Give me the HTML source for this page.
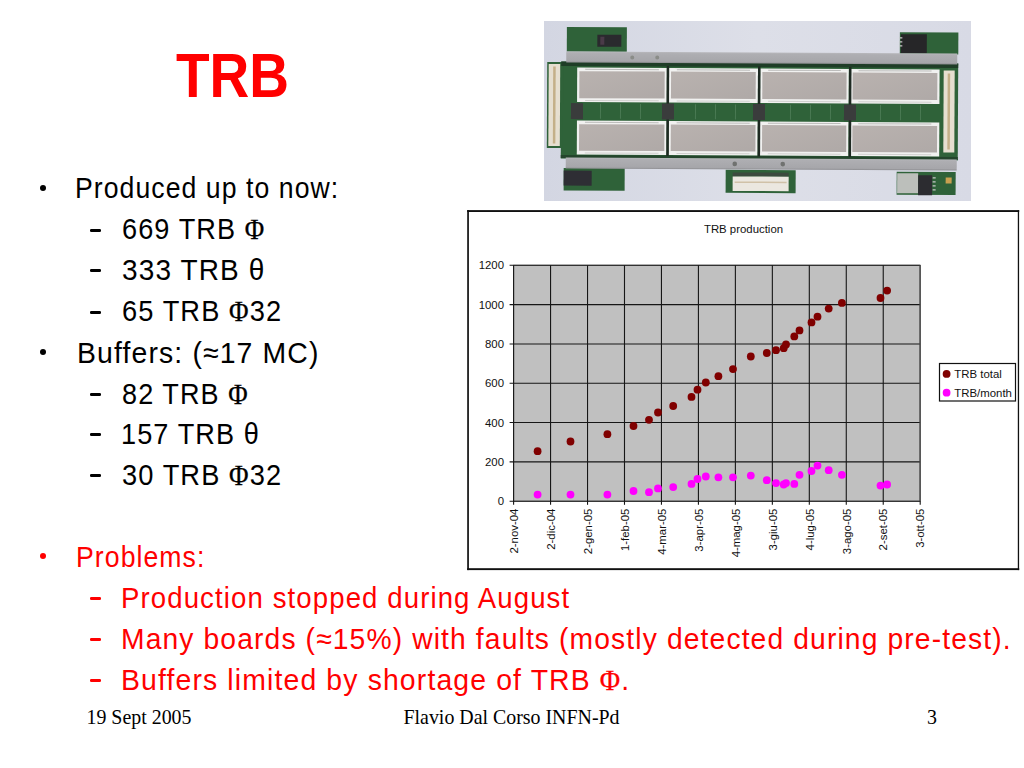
<!DOCTYPE html>
<html><head><meta charset="utf-8"><title>TRB</title>
<style>
html,body{margin:0;padding:0;background:#fff;}
#s{position:relative;width:1024px;height:768px;overflow:hidden;background:#fff;}
.t,.ttl,.ft{position:absolute;white-space:nowrap;font-family:"Liberation Sans",sans-serif;line-height:1;transform-origin:0 0;}
.t{font-size:30px;color:#000;-webkit-text-stroke:0px #000;letter-spacing:1.2px;}
.bu{position:absolute;left:40px;width:6.4px;height:6.4px;border-radius:50%;background:#000;}
.da{position:absolute;left:89.8px;width:11.4px;height:2.5px;border-radius:1.2px;background:#000;}
.bu.r,.da.r{background:#f00;}
.ph{font-family:"Liberation Serif",serif;font-size:0.98em;-webkit-text-stroke:0.3px currentColor;}
.t.r{color:#f00;-webkit-text-stroke:0px #f00;}
.ttl{left:176.00px;top:44.00px;font-size:63px;font-weight:bold;color:#f00;transform:scaleX(0.8730);}
.ft{font-family:"Liberation Serif",serif;font-size:19.9px;color:#000;}
</style></head><body><div id="s">
<div class="ttl">TRB</div>
<div class="bu" style="top:185px"></div>
<div class="t" id="L0" style="left:75.46px;top:173.30px;transform:scaleX(0.8868)">Produced up to now:</div>
<div class="da" style="top:229px"></div>
<div class="t" id="L1" style="left:121.89px;top:214.40px;transform:scaleX(0.9040)">669 TRB <span class="ph">&Phi;</span></div>
<div class="da" style="top:269px"></div>
<div class="t" id="L2" style="left:122.12px;top:255.00px;transform:scaleX(0.9333)">333 TRB &theta;</div>
<div class="da" style="top:311px"></div>
<div class="t" id="L3" style="left:122.09px;top:296.40px;transform:scaleX(0.9079)">65 TRB <span class="ph">&Phi;</span>32</div>
<div class="bu" style="top:349px"></div>
<div class="t" id="L4" style="left:77.11px;top:337.60px;transform:scaleX(0.9460)">Buffers: (&asymp;17 MC)</div>
<div class="da" style="top:393px"></div>
<div class="t" id="L5" style="left:122.15px;top:378.50px;transform:scaleX(0.9018)">82 TRB <span class="ph">&Phi;</span></div>
<div class="da" style="top:433px"></div>
<div class="t" id="L6" style="left:121.25px;top:419.20px;transform:scaleX(0.9040)">157 TRB &theta;</div>
<div class="da" style="top:474px"></div>
<div class="t" id="L7" style="left:122.15px;top:459.80px;transform:scaleX(0.9079)">30 TRB <span class="ph">&Phi;</span>32</div>
<div class="bu r" style="top:553px"></div>
<div class="t r" id="L8" style="left:75.90px;top:542.10px;transform:scaleX(0.8875)">Problems:</div>
<div class="da r" style="top:597px"></div>
<div class="t r" id="L9" style="left:121.19px;top:583.00px;transform:scaleX(0.9193)">Production stopped during August</div>
<div class="da r" style="top:638px"></div>
<div class="t r" id="L10" style="left:121.02px;top:624.20px;transform:scaleX(0.9411)">Many boards (&asymp;15%) with faults (mostly detected during pre-test).</div>
<div class="da r" style="top:679px"></div>
<div class="t r" id="L11" style="left:121.11px;top:664.80px;transform:scaleX(0.9461)">Buffers limited by shortage of TRB <span class="ph">&Phi;</span>.</div>
<div class="ft" style="left:86.5px;top:707.7px">19 Sept 2005</div>
<div class="ft" style="left:403.5px;top:707.7px">Flavio Dal Corso INFN-Pd</div>
<div class="ft" style="left:927px;top:707.7px">3</div>
<svg width="1024" height="768" viewBox="0 0 1024 768" style="position:absolute;left:0;top:0">
<defs><linearGradient id="bg" x1="0" y1="0" x2="1" y2="0"><stop offset="0" stop-color="#d3d6e2"/><stop offset="0.5" stop-color="#dddfe8"/><stop offset="1" stop-color="#d8dae5"/></linearGradient><linearGradient id="bar" x1="0" y1="0" x2="0" y2="1"><stop offset="0" stop-color="#b8b8bc"/><stop offset="0.15" stop-color="#aeaeb2"/><stop offset="0.85" stop-color="#a6a6aa"/><stop offset="1" stop-color="#8c8c90"/></linearGradient><linearGradient id="pad" x1="0" y1="0" x2="1" y2="1"><stop offset="0" stop-color="#b9b2af"/><stop offset="1" stop-color="#afa9a7"/></linearGradient></defs>
<rect x="544" y="21" width="427" height="180" fill="url(#bg)"/>
<g transform="translate(0 0.5) rotate(0.28 757 110)">
<rect x="566.5" y="27.5" width="60" height="24.5" fill="#2f6239"/>
<rect x="597" y="35" width="24" height="12" fill="#2a2a2e"/>
<rect x="600" y="37" width="4" height="8" fill="#4a3a48"/>
<rect x="899.5" y="31" width="58.5" height="22" fill="#2f6239"/>
<rect x="900.5" y="33" width="26" height="19" fill="#262628"/>
<rect x="899" y="36" width="3" height="1.2" fill="#c8c8c8"/><rect x="899" y="40" width="3" height="1.2" fill="#c8c8c8"/><rect x="899" y="44" width="3" height="1.2" fill="#c8c8c8"/>
<rect x="564" y="168.5" width="61" height="22.5" fill="#2f6239"/>
<rect x="564" y="171" width="28" height="15" fill="#2e2e34"/>
<rect x="726" y="169.5" width="70" height="23" fill="#2f6239"/>
<rect x="733" y="172" width="56" height="4" fill="#3c4a3e"/>
<rect x="733" y="176" width="56" height="14.5" fill="#ebe7e0"/>
<rect x="735" y="181" width="52" height="1.5" fill="#c9b89a" opacity="0.8"/>
<rect x="897" y="170.5" width="59" height="23" fill="#2f6239"/>
<rect x="897.5" y="172" width="21" height="20" fill="#bcbfbb"/>
<rect x="918.5" y="174" width="14" height="20" fill="#2c2c30"/>
<rect x="933" y="176" width="3" height="1.2" fill="#c8c8c8"/><rect x="933" y="180" width="3" height="1.2" fill="#c8c8c8"/><rect x="933" y="184" width="3" height="1.2" fill="#c8c8c8"/><rect x="933" y="188" width="3" height="1.2" fill="#c8c8c8"/>
<rect x="946" y="176" width="6" height="6" fill="#c8a050"/>
<rect x="561" y="62" width="397" height="97" fill="#2f6239"/>
<rect x="547" y="62.5" width="16" height="86" fill="#2f6239"/>
<rect x="548.5" y="64.5" width="11.5" height="82" fill="#e6dfd0"/>
<rect x="553" y="67" width="2.5" height="77" fill="#c4b088"/>
<rect x="943.5" y="69" width="11" height="82" fill="#e6dfd0"/>
<rect x="947.5" y="72" width="2.5" height="76" fill="#c4b088"/>
<rect x="561" y="62" width="397" height="4.5" fill="#1f3d27"/>
<rect x="561" y="155.5" width="397" height="3" fill="#24452c"/>
<rect x="566" y="52" width="391" height="11" fill="url(#bar)"/>
<rect x="566" y="158" width="391" height="11" fill="url(#bar)"/>
<circle cx="735" cy="163.5" r="2.3" fill="#707270"/>
<circle cx="783" cy="163.5" r="2.3" fill="#707270"/>
<circle cx="632" cy="57.5" r="2" fill="#8a8c88"/>
<circle cx="657" cy="57.5" r="2" fill="#8a8c88"/>
<rect x="577" y="68" width="89.7" height="34.5" fill="#f1f1f0"/>
<rect x="579.2" y="71.5" width="85.3" height="27.0" fill="url(#pad)"/>
<rect x="585.0" y="69.2" width="73.7" height="1" fill="#9a9a98" opacity="0.6"/>
<rect x="585.0" y="100.3" width="73.7" height="1" fill="#c8c8c6" opacity="0.8"/>
<rect x="577" y="121" width="89.7" height="34" fill="#f1f1f0"/>
<rect x="579.2" y="124.5" width="85.3" height="26.5" fill="url(#pad)"/>
<rect x="585.0" y="122.2" width="73.7" height="1" fill="#9a9a98" opacity="0.6"/>
<rect x="585.0" y="152.8" width="73.7" height="1" fill="#c8c8c6" opacity="0.8"/>
<rect x="668.7" y="68" width="89.1" height="34.5" fill="#f1f1f0"/>
<rect x="670.9" y="71.5" width="84.7" height="27.0" fill="url(#pad)"/>
<rect x="676.7" y="69.2" width="73.1" height="1" fill="#9a9a98" opacity="0.6"/>
<rect x="676.7" y="100.3" width="73.1" height="1" fill="#c8c8c6" opacity="0.8"/>
<rect x="668.7" y="121" width="89.1" height="34" fill="#f1f1f0"/>
<rect x="670.9" y="124.5" width="84.7" height="26.5" fill="url(#pad)"/>
<rect x="676.7" y="122.2" width="73.1" height="1" fill="#9a9a98" opacity="0.6"/>
<rect x="676.7" y="152.8" width="73.1" height="1" fill="#c8c8c6" opacity="0.8"/>
<rect x="760" y="68" width="88.6" height="34.5" fill="#f1f1f0"/>
<rect x="762.2" y="71.5" width="84.2" height="27.0" fill="url(#pad)"/>
<rect x="768.0" y="69.2" width="72.6" height="1" fill="#9a9a98" opacity="0.6"/>
<rect x="768.0" y="100.3" width="72.6" height="1" fill="#c8c8c6" opacity="0.8"/>
<rect x="760" y="121" width="88.6" height="34" fill="#f1f1f0"/>
<rect x="762.2" y="124.5" width="84.2" height="26.5" fill="url(#pad)"/>
<rect x="768.0" y="122.2" width="72.6" height="1" fill="#9a9a98" opacity="0.6"/>
<rect x="768.0" y="152.8" width="72.6" height="1" fill="#c8c8c6" opacity="0.8"/>
<rect x="850.3" y="68" width="89.1" height="34.5" fill="#f1f1f0"/>
<rect x="852.5" y="71.5" width="84.7" height="27.0" fill="url(#pad)"/>
<rect x="858.3" y="69.2" width="73.1" height="1" fill="#9a9a98" opacity="0.6"/>
<rect x="858.3" y="100.3" width="73.1" height="1" fill="#c8c8c6" opacity="0.8"/>
<rect x="850.3" y="121" width="89.1" height="34" fill="#f1f1f0"/>
<rect x="852.5" y="124.5" width="84.7" height="26.5" fill="url(#pad)"/>
<rect x="858.3" y="122.2" width="73.1" height="1" fill="#9a9a98" opacity="0.6"/>
<rect x="858.3" y="152.8" width="73.1" height="1" fill="#c8c8c6" opacity="0.8"/>
<rect x="666.5" y="66" width="2.5" height="90" fill="#1e2a22"/>
<rect x="757.8" y="66" width="2.5" height="90" fill="#1e2a22"/>
<rect x="848.8" y="66" width="2.5" height="90" fill="#1e2a22"/>
<rect x="571" y="103.5" width="12" height="16" fill="#3a3c3c"/>
<rect x="662" y="103.5" width="12" height="16" fill="#3a3c3c"/>
<rect x="753" y="103.5" width="12" height="16" fill="#3a3c3c"/>
<rect x="844" y="103.5" width="12" height="16" fill="#3a3c3c"/>
<rect x="600" y="104" width="0.8" height="15" fill="#5d8a66" opacity="0.7"/>
<rect x="620" y="104" width="0.8" height="15" fill="#5d8a66" opacity="0.7"/>
<rect x="640" y="104" width="0.8" height="15" fill="#5d8a66" opacity="0.7"/>
<rect x="695" y="104" width="0.8" height="15" fill="#5d8a66" opacity="0.7"/>
<rect x="715" y="104" width="0.8" height="15" fill="#5d8a66" opacity="0.7"/>
<rect x="735" y="104" width="0.8" height="15" fill="#5d8a66" opacity="0.7"/>
<rect x="790" y="104" width="0.8" height="15" fill="#5d8a66" opacity="0.7"/>
<rect x="810" y="104" width="0.8" height="15" fill="#5d8a66" opacity="0.7"/>
<rect x="830" y="104" width="0.8" height="15" fill="#5d8a66" opacity="0.7"/>
<rect x="880" y="104" width="0.8" height="15" fill="#5d8a66" opacity="0.7"/>
<rect x="900" y="104" width="0.8" height="15" fill="#5d8a66" opacity="0.7"/>
<rect x="920" y="104" width="0.8" height="15" fill="#5d8a66" opacity="0.7"/>
</g>
</svg>
<svg width="1024" height="768" viewBox="0 0 1024 768" style="position:absolute;left:0;top:0">
<rect x="468" y="211" width="550.5" height="358" fill="#fff"/>
<g fill="#111"><rect x="467.2" y="210.1" width="552" height="1.9"/><rect x="467.2" y="210.1" width="1.7" height="360"/><rect x="1017.8" y="210.1" width="1.3" height="360"/><rect x="467.2" y="568.2" width="552" height="1.9"/></g>
<rect x="513.6" y="265.3" width="406.6" height="235.9" fill="#c0c0c0" stroke="#707070" stroke-width="1"/>
<line x1="509.6" y1="501.20" x2="920.2" y2="501.20" stroke="#161616" stroke-width="1.1"/>
<line x1="509.6" y1="461.88" x2="920.2" y2="461.88" stroke="#161616" stroke-width="1.1"/>
<line x1="509.6" y1="422.57" x2="920.2" y2="422.57" stroke="#161616" stroke-width="1.1"/>
<line x1="509.6" y1="383.25" x2="920.2" y2="383.25" stroke="#161616" stroke-width="1.1"/>
<line x1="509.6" y1="343.93" x2="920.2" y2="343.93" stroke="#161616" stroke-width="1.1"/>
<line x1="509.6" y1="304.62" x2="920.2" y2="304.62" stroke="#161616" stroke-width="1.1"/>
<line x1="509.6" y1="265.30" x2="920.2" y2="265.30" stroke="#161616" stroke-width="1.1"/>
<line x1="513.60" y1="265.3" x2="513.60" y2="504.8" stroke="#161616" stroke-width="1.1"/>
<line x1="550.56" y1="265.3" x2="550.56" y2="504.8" stroke="#161616" stroke-width="1.1"/>
<line x1="587.53" y1="265.3" x2="587.53" y2="504.8" stroke="#161616" stroke-width="1.1"/>
<line x1="624.49" y1="265.3" x2="624.49" y2="504.8" stroke="#161616" stroke-width="1.1"/>
<line x1="661.45" y1="265.3" x2="661.45" y2="504.8" stroke="#161616" stroke-width="1.1"/>
<line x1="698.42" y1="265.3" x2="698.42" y2="504.8" stroke="#161616" stroke-width="1.1"/>
<line x1="735.38" y1="265.3" x2="735.38" y2="504.8" stroke="#161616" stroke-width="1.1"/>
<line x1="772.35" y1="265.3" x2="772.35" y2="504.8" stroke="#161616" stroke-width="1.1"/>
<line x1="809.31" y1="265.3" x2="809.31" y2="504.8" stroke="#161616" stroke-width="1.1"/>
<line x1="846.27" y1="265.3" x2="846.27" y2="504.8" stroke="#161616" stroke-width="1.1"/>
<line x1="883.24" y1="265.3" x2="883.24" y2="504.8" stroke="#161616" stroke-width="1.1"/>
<line x1="920.20" y1="265.3" x2="920.20" y2="504.8" stroke="#161616" stroke-width="1.1"/>
<line x1="920.2" y1="265.3" x2="920.2" y2="501.2" stroke="#606060" stroke-width="1.2"/>
<g font-family="Liberation Sans, sans-serif" font-size="11.4" fill="#111">
<text x="504" y="505.3" text-anchor="end">0</text>
<text x="504" y="466.0" text-anchor="end">200</text>
<text x="504" y="426.7" text-anchor="end">400</text>
<text x="504" y="387.4" text-anchor="end">600</text>
<text x="504" y="348.0" text-anchor="end">800</text>
<text x="504" y="308.7" text-anchor="end">1000</text>
<text x="504" y="269.4" text-anchor="end">1200</text>
<text transform="translate(517.8,508.6) rotate(-90)" text-anchor="end">2-nov-04</text>
<text transform="translate(554.8,508.6) rotate(-90)" text-anchor="end">2-dic-04</text>
<text transform="translate(591.7,508.6) rotate(-90)" text-anchor="end">2-gen-05</text>
<text transform="translate(628.7,508.6) rotate(-90)" text-anchor="end">1-feb-05</text>
<text transform="translate(665.7,508.6) rotate(-90)" text-anchor="end">4-mar-05</text>
<text transform="translate(702.6,508.6) rotate(-90)" text-anchor="end">3-apr-05</text>
<text transform="translate(739.6,508.6) rotate(-90)" text-anchor="end">4-mag-05</text>
<text transform="translate(776.5,508.6) rotate(-90)" text-anchor="end">3-giu-05</text>
<text transform="translate(813.5,508.6) rotate(-90)" text-anchor="end">4-lug-05</text>
<text transform="translate(850.5,508.6) rotate(-90)" text-anchor="end">3-ago-05</text>
<text transform="translate(887.4,508.6) rotate(-90)" text-anchor="end">2-set-05</text>
<text transform="translate(924.4,508.6) rotate(-90)" text-anchor="end">3-ott-05</text>
<text x="743.5" y="232.5" text-anchor="middle">TRB production</text>
</g>
<circle cx="537.6" cy="494.6" r="3.9" fill="#ff00ff"/>
<circle cx="570.5" cy="494.6" r="3.9" fill="#ff00ff"/>
<circle cx="607.4" cy="494.6" r="3.9" fill="#ff00ff"/>
<circle cx="633.5" cy="491" r="3.9" fill="#ff00ff"/>
<circle cx="649" cy="492.2" r="3.9" fill="#ff00ff"/>
<circle cx="658" cy="488.4" r="3.9" fill="#ff00ff"/>
<circle cx="673.2" cy="487.1" r="3.9" fill="#ff00ff"/>
<circle cx="691.5" cy="483.9" r="3.9" fill="#ff00ff"/>
<circle cx="697.5" cy="479" r="3.9" fill="#ff00ff"/>
<circle cx="705.8" cy="476.5" r="3.9" fill="#ff00ff"/>
<circle cx="718.4" cy="477.3" r="3.9" fill="#ff00ff"/>
<circle cx="733" cy="477.3" r="3.9" fill="#ff00ff"/>
<circle cx="750.8" cy="475.6" r="3.9" fill="#ff00ff"/>
<circle cx="766.8" cy="480.2" r="3.9" fill="#ff00ff"/>
<circle cx="776" cy="483.1" r="3.9" fill="#ff00ff"/>
<circle cx="783.7" cy="484.5" r="3.9" fill="#ff00ff"/>
<circle cx="786" cy="483.1" r="3.9" fill="#ff00ff"/>
<circle cx="794.3" cy="483.9" r="3.9" fill="#ff00ff"/>
<circle cx="799.5" cy="474.8" r="3.9" fill="#ff00ff"/>
<circle cx="811.5" cy="471" r="3.9" fill="#ff00ff"/>
<circle cx="817.5" cy="465.6" r="3.9" fill="#ff00ff"/>
<circle cx="828.7" cy="470.2" r="3.9" fill="#ff00ff"/>
<circle cx="841.9" cy="474.8" r="3.9" fill="#ff00ff"/>
<circle cx="880.5" cy="485.6" r="3.9" fill="#ff00ff"/>
<circle cx="887.1" cy="484.5" r="3.9" fill="#ff00ff"/>
<circle cx="537.6" cy="451.2" r="3.9" fill="#800000"/>
<circle cx="570.5" cy="441.5" r="3.9" fill="#800000"/>
<circle cx="607.4" cy="434.2" r="3.9" fill="#800000"/>
<circle cx="633.5" cy="426" r="3.9" fill="#800000"/>
<circle cx="649" cy="419.8" r="3.9" fill="#800000"/>
<circle cx="658" cy="412.5" r="3.9" fill="#800000"/>
<circle cx="673.2" cy="406" r="3.9" fill="#800000"/>
<circle cx="691.5" cy="396.9" r="3.9" fill="#800000"/>
<circle cx="697.5" cy="389.7" r="3.9" fill="#800000"/>
<circle cx="705.8" cy="382.5" r="3.9" fill="#800000"/>
<circle cx="718.4" cy="376.2" r="3.9" fill="#800000"/>
<circle cx="733" cy="369.1" r="3.9" fill="#800000"/>
<circle cx="750.8" cy="356.5" r="3.9" fill="#800000"/>
<circle cx="766.8" cy="353" r="3.9" fill="#800000"/>
<circle cx="776" cy="350.2" r="3.9" fill="#800000"/>
<circle cx="783.7" cy="348.2" r="3.9" fill="#800000"/>
<circle cx="786" cy="344.4" r="3.9" fill="#800000"/>
<circle cx="794.3" cy="336.4" r="3.9" fill="#800000"/>
<circle cx="799.5" cy="330.4" r="3.9" fill="#800000"/>
<circle cx="811.5" cy="322.4" r="3.9" fill="#800000"/>
<circle cx="817.5" cy="316.7" r="3.9" fill="#800000"/>
<circle cx="828.7" cy="308.6" r="3.9" fill="#800000"/>
<circle cx="841.9" cy="302.9" r="3.9" fill="#800000"/>
<circle cx="880.5" cy="298" r="3.9" fill="#800000"/>
<circle cx="887.1" cy="290.6" r="3.9" fill="#800000"/>
<rect x="939.5" y="363.5" width="76" height="37.5" fill="#fff" stroke="#111" stroke-width="1.2"/>
<circle cx="946.6" cy="373.9" r="3.9" fill="#800000"/><circle cx="946.6" cy="392.7" r="3.9" fill="#ff00ff"/>
<g font-family="Liberation Sans, sans-serif" font-size="11.4" fill="#111"><text x="954.3" y="377.7">TRB total</text><text x="954.3" y="396.5">TRB/month</text></g>
</svg>
</div></body></html>
